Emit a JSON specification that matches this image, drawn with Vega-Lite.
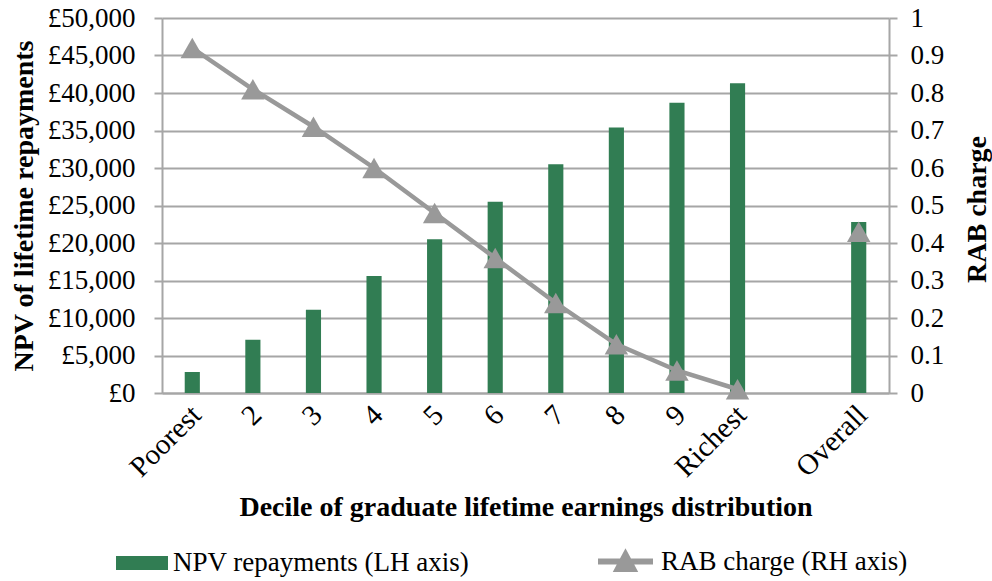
{
  "$schema": "https://vega.github.io/schema/vega-lite/v6.json",
  "autosize": {"type": "none"},
  "width": 727,
  "height": 375,
  "padding": {"left": 162, "top": 18, "right": 103, "bottom": 188},
  "background": "white",
  "config": {
    "view": {"stroke": null},
    "font": "Liberation Serif",
    "axis": {
      "labelFont": "Liberation Serif",
      "titleFont": "Liberation Serif",
      "labelColor": "#000000",
      "titleColor": "#000000",
      "domainColor": "#a6a6a6",
      "domainWidth": 2,
      "tickColor": "#a6a6a6",
      "tickWidth": 2,
      "gridColor": "#a6a6a6",
      "gridWidth": 2
    },
    "legend": {
      "labelFont": "Liberation Serif",
      "labelFontSize": 27,
      "labelColor": "#000000",
      "labelLimit": 0,
      "padding": 0,
      "offset": 0
    }
  },
  "data": {
    "values": [
      {"decile": "Poorest", "npv": 2800, "rab": 0.92, "grp": "a"},
      {"decile": "2", "npv": 7100, "rab": 0.81, "grp": "a"},
      {"decile": "3", "npv": 11100, "rab": 0.71, "grp": "a"},
      {"decile": "4", "npv": 15600, "rab": 0.60, "grp": "a"},
      {"decile": "5", "npv": 20500, "rab": 0.48, "grp": "a"},
      {"decile": "6", "npv": 25500, "rab": 0.36, "grp": "a"},
      {"decile": "7", "npv": 30500, "rab": 0.24, "grp": "a"},
      {"decile": "8", "npv": 35400, "rab": 0.13, "grp": "a"},
      {"decile": "9", "npv": 38700, "rab": 0.06, "grp": "a"},
      {"decile": "Richest", "npv": 41300, "rab": 0.01, "grp": "a"},
      {"decile": "Overall", "npv": 22800, "rab": 0.43, "grp": "b"}
    ]
  },
  "encoding": {
    "x": {
      "field": "decile",
      "type": "nominal",
      "sort": null,
      "scale": {
        "domain": ["Poorest", "2", "3", "4", "5", "6", "7", "8", "9", "Richest", " ", "Overall"],
        "paddingInner": 0.75,
        "paddingOuter": 0.375
      },
      "axis": {
        "title": "Decile of graduate lifetime earnings distribution",
        "titleFontSize": 28,
        "titleFontWeight": "bold",
        "titlePadding": 11,
        "labelFontSize": 29,
        "labelAngle": -45,
        "labelAlign": "right",
        "labelBaseline": "middle",
        "labelPadding": 17,
        "labelOffset": 4,
        "ticks": false,
        "domain": true
      }
    }
  },
  "layer": [
    {
      "mark": {"type": "bar"},
      "encoding": {
        "y": {
          "field": "npv",
          "type": "quantitative",
          "scale": {"domain": [0, 50000]},
          "axis": {
            "orient": "left",
            "title": "NPV of lifetime repayments",
            "titleFontSize": 28,
            "titleFontWeight": "bold",
            "titlePadding": 9,
            "values": [0, 5000, 10000, 15000, 20000, 25000, 30000, 35000, 40000, 45000, 50000],
            "labelExpr": "'£' + format(datum.value, ',')",
            "labelFontSize": 27,
            "labelPadding": 19,
            "tickSize": 8,
            "grid": true
          }
        },
        "fill": {
          "datum": "NPV repayments (LH axis)",
          "type": "nominal",
          "scale": {"range": ["#317d53"]},
          "legend": {
            "title": null,
            "orient": "none",
            "legendX": -46,
            "legendY": 519,
            "symbolType": "M-1,-0.27H1V0.27H-1Z",
            "symbolSize": 2704,
            "symbolStrokeWidth": 0,
            "symbolOpacity": 1,
            "labelOffset": 5
          }
        }
      }
    },
    {
      "encoding": {
        "y": {
          "field": "rab",
          "type": "quantitative",
          "scale": {"domain": [0, 1]},
          "axis": {
            "orient": "right",
            "title": "RAB charge",
            "titleAngle": -90,
            "titleX": 88,
            "titleY": 191,
            "titleAlign": "center",
            "titleBaseline": "middle",
            "titleFontSize": 28,
            "titleFontWeight": "bold",
            "values": [0, 0.1, 0.2, 0.3, 0.4, 0.5, 0.6, 0.7, 0.8, 0.9, 1],
            "format": ".1~f",
            "labelFontSize": 27,
            "labelPadding": 13,
            "tickSize": 8,
            "grid": false
          }
        }
      },
      "layer": [
        {
          "mark": {"type": "line", "strokeWidth": 4.5},
          "encoding": {
            "detail": {"field": "grp"},
            "stroke": {
              "datum": "RAB charge (RH axis)",
              "type": "nominal",
              "scale": {"range": ["#999999"]},
              "legend": {
                "title": null,
                "orient": "none",
                "legendX": 433,
                "legendY": 513,
                "symbolType": "M-1,0H1M-0.28,0.27L0,-0.25L0.28,0.27Z",
                "symbolSize": 3025,
                "symbolStrokeWidth": 6,
                "symbolFillColor": "#999999",
                "labelOffset": 5
              }
            }
          }
        },
        {
          "mark": {"type": "point", "shape": "triangle-up", "size": 550, "filled": true, "color": "#999999", "opacity": 1}
        }
      ]
    }
  ],
  "resolve": {"scale": {"y": "independent", "fill": "independent", "stroke": "independent"}}
}
